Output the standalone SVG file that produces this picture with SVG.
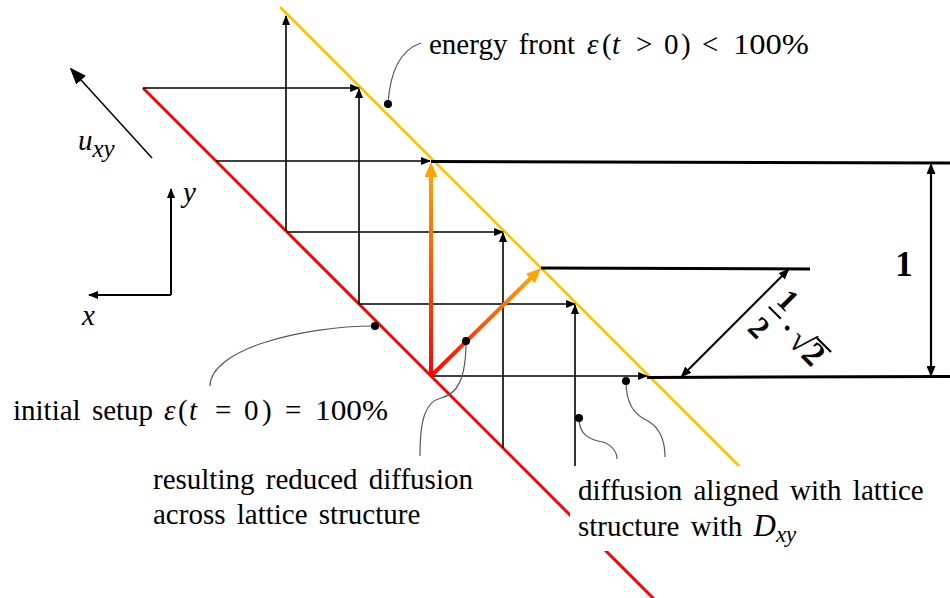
<svg xmlns="http://www.w3.org/2000/svg" width="950" height="598" viewBox="0 0 950 598">
<style>
.lat{stroke:#000;stroke-width:1.6;fill:none;marker-end:url(#ah)}
.thick{stroke:#000;stroke-width:3;fill:none}
.dim{stroke:#000;stroke-width:2.2;fill:none;marker-start:url(#ah2);marker-end:url(#ah2)}
.lead{stroke:#595959;stroke-width:1.2;fill:none}
.lbl{font-size:29px;fill:#000;word-spacing:4px}
.it{font-style:italic}
.dot{fill:#000}
</style>
<defs>
<marker id="ah" markerUnits="userSpaceOnUse" markerWidth="10" markerHeight="8" refX="9" refY="4" orient="auto"><path d="M0,0 L10,4 L0,8 z" fill="#000"/></marker>
<marker id="ah2" markerUnits="userSpaceOnUse" markerWidth="11" markerHeight="9" refX="9" refY="4.5" orient="auto-start-reverse"><path d="M0,0 L11,4.5 L0,9 z" fill="#000"/></marker>
<marker id="ahBig" markerUnits="userSpaceOnUse" markerWidth="17" markerHeight="13" refX="15" refY="6.5" orient="auto"><path d="M0,0 L17,6.5 L0,13 z" fill="#000"/></marker>
<marker id="ahO" markerUnits="userSpaceOnUse" markerWidth="15" markerHeight="13" refX="5" refY="6.5" orient="auto"><path d="M0,0 L15,6.5 L0,13 z" fill="#FFA500"/></marker>
<linearGradient id="gV" gradientUnits="userSpaceOnUse" x1="431" y1="376" x2="431" y2="170"><stop offset="0" stop-color="#FF0000"/><stop offset="1" stop-color="#FFA500"/></linearGradient>
<linearGradient id="gD" gradientUnits="userSpaceOnUse" x1="431" y1="376" x2="534" y2="275"><stop offset="0" stop-color="#FF0000"/><stop offset="1" stop-color="#FFA500"/></linearGradient>
</defs>

<g id="fronts">
<line x1="143" y1="88" x2="657" y2="602" stroke="#FF0000" stroke-width="3"/>
<line x1="280" y1="7" x2="741" y2="468" stroke="#FFC000" stroke-width="2.5"/>
</g>

<g id="connectors">
<path class="lat" d="M143,88 H359"/>
<path class="lat" d="M216,161 H430"/>
<path class="lat" d="M287,232 H503"/>
<path class="lat" d="M359,304 H575"/>
<path class="lat" d="M431,376 H647"/>
<path class="lat" d="M286,231 V16"/>
<path class="lat" d="M359,304 V89"/>
<path class="lat" d="M503,448 V233"/>
<path class="lat" d="M575,466 V305"/>
<line x1="431" y1="376" x2="431" y2="172" stroke="url(#gV)" stroke-width="4" marker-end="url(#ahO)"/>
<line x1="431" y1="376" x2="534" y2="275" stroke="url(#gD)" stroke-width="4" marker-end="url(#ahO)"/>
<path class="thick" d="M431,161.5 L950,163"/>
<path class="thick" d="M541,268 L810,269"/>
<path class="thick" d="M647,377.5 L950,376.5"/>
<path class="dim" d="M931,165 V375"/>
<path class="dim" d="M682,376 L788,270"/>
<path d="M152,158 L71,69" stroke="#000" stroke-width="1.5" fill="none" marker-end="url(#ahBig)"/>
<path d="M171,295 V189" stroke="#000" stroke-width="2" fill="none" marker-end="url(#ah)"/>
<path d="M171,295 H89" stroke="#000" stroke-width="2" fill="none" marker-end="url(#ah)"/>
<path class="lead" d="M388,104 C390,72 400,50 421,43"/>
<circle class="dot" cx="388" cy="104" r="4"/>
<path class="lead" d="M375,326 C300,326 210,350 210,386"/>
<circle class="dot" cx="375" cy="326" r="4"/>
<path class="lead" d="M466,341 C466,380 457,394 441,398 C425,402 420,420 420,456"/>
<circle class="dot" cx="466" cy="341" r="4"/>
<path class="lead" d="M579,418 C579,435 590,440 603,442 C612,445 617,452 617,459"/>
<circle class="dot" cx="579" cy="418" r="4"/>
<path class="lead" d="M626,381 C626,405 635,415 648,421 C660,428 665,440 665,457"/>
<circle class="dot" cx="626" cy="381" r="4"/>
</g>

<g id="labels" font-family="Liberation Serif, serif">
<g id="label-energy-front">
<text class="lbl" y="54"><tspan x="429">energy front</tspan><tspan x="587" class="it">ε</tspan><tspan x="602">(</tspan><tspan x="612" class="it">t</tspan><tspan x="636">&gt;</tspan><tspan x="664">0</tspan><tspan x="681">)</tspan><tspan x="702">&lt;</tspan><tspan x="733" textLength="76" lengthAdjust="spacingAndGlyphs">100%</tspan></text>
</g>

<g id="label-initial-setup">
<text class="lbl" y="420"><tspan x="13">initial setup</tspan><tspan x="164" class="it">ε</tspan><tspan x="178">(</tspan><tspan x="189" class="it">t</tspan><tspan x="215">=</tspan><tspan x="244">0</tspan><tspan x="262">)</tspan><tspan x="285">=</tspan><tspan x="315" textLength="73" lengthAdjust="spacingAndGlyphs">100%</tspan></text>
</g>

<g id="label-reduced">
<text class="lbl" x="153" y="489">resulting reduced diffusion</text>
<text class="lbl" x="153" y="524">across lattice structure</text>
</g>

<g id="label-aligned">
<rect x="570" y="466" width="375" height="85" fill="#fff"/>
<text class="lbl" x="578" y="500">diffusion aligned with lattice</text>
<text class="lbl" x="578" y="536">structure with <tspan class="it" font-size="31">D</tspan><tspan class="it" font-size="23" dy="6">xy</tspan></text>
</g>

<g id="label-uxy">
<text class="lbl it" x="78" y="150" font-size="34">u<tspan font-size="25" dy="7">xy</tspan></text>
</g>

<g id="axes-labels">
<text class="lbl it" x="183" y="202" font-size="31">y</text>
<text class="lbl it" x="82" y="325" font-size="31">x</text>
</g>

<g id="label-one">
<text x="904" y="276" text-anchor="middle" font-weight="bold" font-size="35">1</text>
</g>

<g id="label-diag" transform="translate(778,316) rotate(45)" font-weight="bold" font-size="31">
<text x="-4" y="-8" text-anchor="middle">1</text>
<line x1="-13" y1="0" x2="4" y2="0" stroke="#000" stroke-width="2"/>
<text x="-5" y="32" text-anchor="middle">2</text>
<circle cx="15" cy="2" r="2.4"/>
<text x="25" y="13" font-size="34">√2</text>
<line x1="43" y1="-12" x2="63" y2="-12" stroke="#000" stroke-width="2.2"/>
</g>
</g>
</svg>
